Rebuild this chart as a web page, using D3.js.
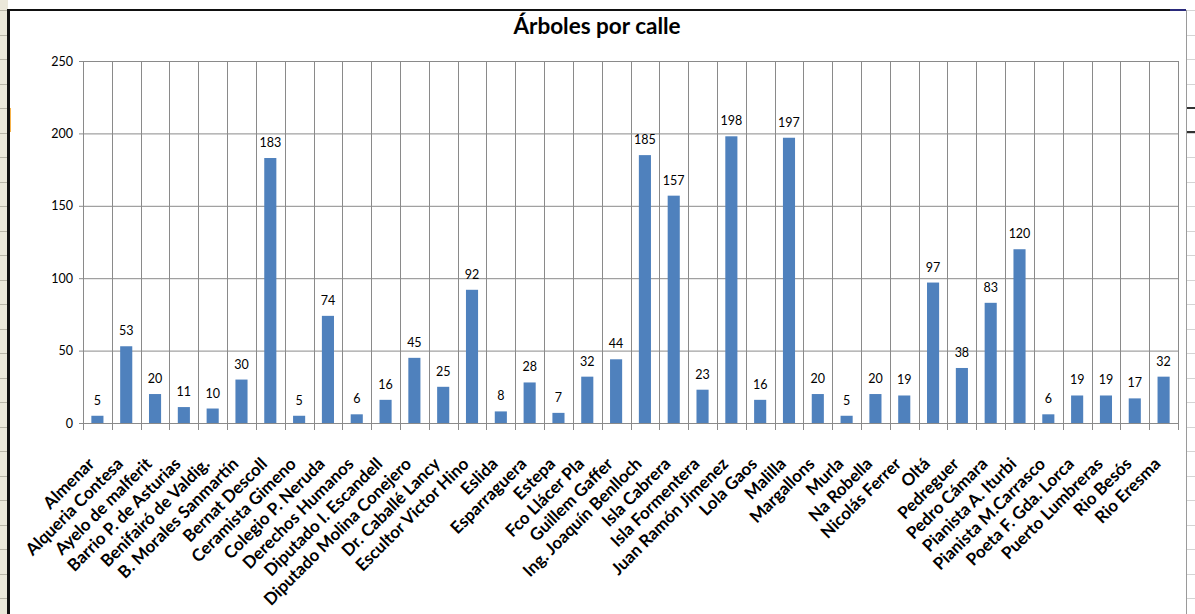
<!DOCTYPE html>
<html><head><meta charset="utf-8">
<script src="https://cdn.jsdelivr.net/npm/d3@7"></script>
<style>
html,body{margin:0;padding:0;background:#fff;overflow:hidden}
svg{display:block;font-family:Lato,"Open Sans",sans-serif}
</style></head>
<body>
<svg id="c" width="1195" height="614"></svg>
<script>
const categories = ["Almenar","Alqueria Contesa","Ayelo de malferit","Barrio P. de Asturias","Benifairó de Valdig.","B. Morales Sanmartín","Bernat Descoll","Ceramista Gimeno","Colegio P. Neruda","Derechos Humanos","Diputado I. Escandell","Diputado Molina Conejero","Dr. Caballé Lancy","Escultor Victor Hino","Eslida","Esparraguera","Estepa","Fco Llácer Pla","Guillem Gaffer","Ing. Joaquín Benlloch","Isla Cabrera","Isla Formentera","Juan Ramón Jimenez","Lola Gaos","Malilla","Margallons","Murla","Na Robella","Nicolás Ferrer","Oltá","Pedreguer","Pedro Cámara","Pianista A. Iturbi","Pianista M.Carrasco","Poeta F. Gda. Lorca","Puerto Lumbreras","Rio Besós","Rio Eresma"];
const values = [5,53,20,11,10,30,183,5,74,6,16,45,25,92,8,28,7,32,44,185,157,23,198,16,197,20,5,20,19,97,38,83,120,6,19,19,17,32];
const yTicks = [0,50,100,150,200,250];
const title = "Árboles por calle";

const svg = d3.select("#c");

// spreadsheet surroundings
svg.append("rect").attr("x",0).attr("y",0).attr("width",8).attr("height",614).attr("fill","#ebe8da");
const rowYs = d3.range(10, 614, 24.5);
svg.selectAll(".rl").data(rowYs).enter().append("line")
  .attr("x1",0).attr("x2",8).attr("y1",d=>Math.round(d)+0.5).attr("y2",d=>Math.round(d)+0.5)
  .attr("stroke","#b9b6a8").attr("stroke-width",1);
svg.append("rect").attr("x",8).attr("y",108).attr("width",3).attr("height",24).attr("fill","#f6b24a");
svg.selectAll(".rr").data(rowYs).enter().append("line")
  .attr("x1",1187).attr("x2",1195).attr("y1",d=>Math.round(d)+0.5).attr("y2",d=>Math.round(d)+0.5)
  .attr("stroke","#d4d4d4").attr("stroke-width",1);
svg.append("rect").attr("x",1187).attr("y",107).attr("width",8).attr("height",2).attr("fill","#333");
svg.append("rect").attr("x",1187).attr("y",131).attr("width",8).attr("height",2).attr("fill","#333");
svg.append("line").attr("x1",1186.5).attr("x2",1186.5).attr("y1",10).attr("y2",614).attr("stroke","#9a9a9a");
svg.append("rect").attr("x",7).attr("y",9).attr("width",3).attr("height",605).attr("fill","#111");
svg.append("rect").attr("x",7).attr("y",9).attr("width",1163).attr("height",2).attr("fill","#111");
svg.append("rect").attr("x",1170).attr("y",9).attr("width",16).attr("height",2).attr("fill","#2a2a7a");

// chart
const L = 83, R = 1178, T = 61, B = 423;
const x = d3.scaleBand().domain(categories).range([L, R]).padding(0);
const y = d3.scaleLinear().domain([0, 250]).range([B, T]);

const grid = "#8a8a8a";
const yAxis = svg.append("g").attr("transform",`translate(${L},0)`)
  .call(d3.axisLeft(y).tickValues(yTicks).tickSize(-(R-L)).tickSizeOuter(0).tickPadding(10));
yAxis.select(".domain").remove();
yAxis.selectAll(".tick line").attr("stroke",grid).attr("x1",-4);
yAxis.selectAll(".tick text").attr("font-size",12.5).attr("fill","#000").attr("font-family","Lato");

const bounds = categories.map(c => x(c)).concat([R]);
svg.selectAll(".vg").data(bounds).enter().append("line")
  .attr("x1",d=>Math.round(d)+0.5).attr("x2",d=>Math.round(d)+0.5)
  .attr("y1",T).attr("y2",B+7).attr("stroke",grid).attr("stroke-width",1);
svg.append("line").attr("x1",L).attr("x2",R).attr("y1",B+0.5).attr("y2",B+0.5).attr("stroke",grid);

const bw = x.bandwidth()*0.42;
svg.selectAll(".bar").data(values).enter().append("rect")
  .attr("x",(d,i)=>x(categories[i]) + x.bandwidth()/2 - bw/2)
  .attr("y",d=>y(d)).attr("width",bw).attr("height",d=>B - y(d))
  .attr("fill","#4f81bd");

svg.selectAll(".lbl").data(values).enter().append("text")
  .attr("x",(d,i)=>x(categories[i]) + x.bandwidth()/2)
  .attr("y",d=>y(d) - 11).attr("text-anchor","middle")
  .attr("font-size",12.5).attr("fill","#000").text(d=>d);

svg.selectAll(".cat").data(categories).enter().append("text")
  .attr("transform",d=>`translate(${x(d)+x.bandwidth()/2-2},${B+42}) rotate(-45)`)
  .attr("text-anchor","end").attr("font-size",17).attr("font-weight","bold")
  .attr("fill","#000").text(d=>d);

svg.append("text").attr("x",597).attr("y",34).attr("text-anchor","middle")
  .attr("font-size",22.5).attr("font-weight","bold").attr("fill","#000").text(title);
</script>
</body></html>
